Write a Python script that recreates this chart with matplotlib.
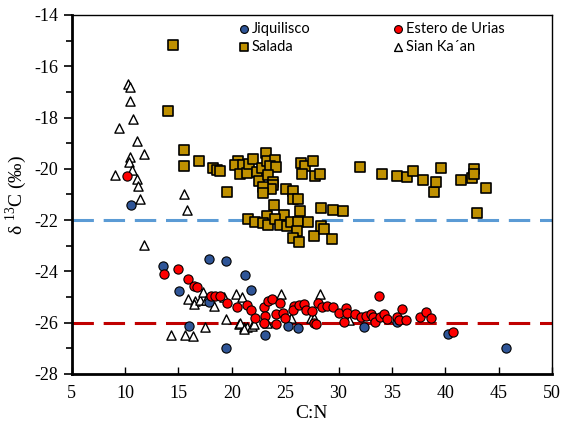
import matplotlib
matplotlib.use("Agg")
import matplotlib.pyplot as plt
from matplotlib.ticker import MultipleLocator

plt.rcParams['font.family'] = ['Liberation Serif', 'DejaVu Serif']
plt.rcParams['mathtext.fontset'] = 'custom'
plt.rcParams['mathtext.rm'] = 'Liberation Serif'
plt.rcParams['axes.unicode_minus'] = False

# --- Data (C:N, d13C) ---
jiq_x = [10.54, 17.9, 13.54, 19.42, 21.27, 15.01, 15.95, 19.42, 17.9, 21.8,
         23.12, 25.28, 26.16, 32.4, 35.51, 40.27, 45.72]
jiq_y = [-21.42, -23.5, -23.8, -23.6, -24.13, -24.77, -26.12, -26.98, -25.19, -24.72,
         -26.48, -26.13, -26.22, -26.15, -25.96, -26.45, -26.97]

est_x = [10.19, 13.64, 14.95, 15.89, 16.48, 16.76, 18.01, 18.42, 18.86, 19.55,
         20.49, 21.43, 21.81, 22.15, 22.99, 23.12, 22.99, 23.4, 23.78, 24.18,
         24.18, 24.56, 24.81, 24.96, 25.81, 25.75, 26.28, 26.75, 26.91, 27.54,
         28.06, 27.69, 27.91, 28.47, 28.94, 29.51, 30.03, 30.66, 30.82, 30.5,
         31.51, 32.07, 32.54, 33.0, 33.26, 33.39, 33.89, 33.79, 34.26, 34.58,
         35.45, 35.7, 35.99, 36.36, 37.64, 38.17, 38.64, 40.74]
est_y = [-20.29, -24.11, -23.89, -24.3, -24.57, -24.62, -24.96, -24.97, -24.97, -25.22,
         -25.4, -25.32, -25.5, -25.83, -25.4, -25.73, -26.02, -25.14, -25.06, -25.67,
         -26.05, -25.24, -25.63, -25.83, -25.35, -25.5, -25.31, -25.28, -25.5, -25.53,
         -25.24, -26.02, -26.05, -25.4, -25.35, -25.37, -25.63, -25.44, -25.63, -25.96,
         -25.67, -25.77, -25.72, -25.66, -25.77, -25.96, -25.77, -24.96, -25.67, -25.85,
         -25.79, -25.89, -25.48, -25.89, -25.79, -25.57, -25.8, -26.36]

sal_x = [14.48, 14.01, 15.48, 15.48, 16.92, 18.2, 18.58, 18.9, 19.52, 20.55,
         20.33, 21.02, 20.77, 21.43, 21.62, 21.99, 22.33, 22.52, 22.87, 23.22,
         23.27, 24.02, 23.62, 24.15, 23.43, 23.84, 23.9, 23.69, 22.94, 22.9,
         25.12, 25.75, 25.69, 26.18, 26.47, 26.81, 26.62, 27.63, 27.78, 28.25,
         31.98, 23.93, 26.41, 24.87, 23.3, 21.49, 22.18, 22.94, 23.37, 24.06,
         24.49, 25.19, 25.56, 26.18, 27.12, 26.09, 25.69, 26.31, 27.69, 28.38,
         28.66, 29.35, 28.35, 29.47, 30.41, 34.04, 35.48, 36.39, 36.98, 37.92,
         38.92, 39.14, 39.58, 41.46, 42.46, 42.65, 42.71, 43.84, 42.96]
sal_y = [-15.16, -17.75, -19.25, -19.89, -19.68, -19.95, -20.04, -20.1, -20.92, -19.7,
         -19.86, -19.85, -20.2, -20.16, -19.82, -19.63, -20.13, -20.47, -19.95, -19.38,
         -19.69, -19.65, -19.89, -19.94, -20.25, -20.51, -20.64, -20.77, -20.72, -20.95,
         -20.77, -20.88, -21.17, -21.18, -19.78, -19.89, -20.21, -19.7, -20.28, -20.22,
         -19.91, -21.42, -21.66, -21.81, -21.82, -21.97, -22.09, -22.1, -22.18, -21.97,
         -22.18, -22.23, -22.08, -22.08, -22.08, -22.43, -22.71, -22.86, -22.62, -22.23,
         -22.34, -22.74, -21.52, -21.61, -21.66, -20.22, -20.26, -20.32, -20.09, -20.43,
         -20.91, -20.53, -19.98, -20.42, -20.35, -19.99, -20.22, -20.74, -21.72]

sian_x = [10.26, 10.5, 10.45, 10.76, 9.47, 11.07, 11.79, 10.5, 10.38, 10.69,
          9.04, 11.16, 11.23, 11.41, 15.52, 15.77, 11.76, 15.89, 16.55, 16.48,
          16.98, 17.3, 17.6, 18.3, 19.3, 20.43, 20.96, 19.42, 14.32, 15.57,
          16.32, 17.52, 20.64, 21.18, 21.43, 24.65, 28.22, 20.8, 21.1, 21.9,
          22.05, 23.3, 25.5, 27.38, 27.69, 30.97]
sian_y = [-16.68, -16.79, -17.34, -18.04, -18.42, -18.93, -19.43, -19.52, -19.74, -20.05,
          -20.24, -20.4, -20.68, -21.18, -21.0, -21.62, -22.98, -25.07, -25.17, -25.27,
          -25.1, -24.79, -25.1, -25.35, -25.0, -24.89, -24.98, -25.84, -26.47, -26.47,
          -26.52, -26.17, -26.05, -26.15, -26.17, -24.9, -24.9, -26.0, -26.26, -26.13,
          -26.07, -26.02, -25.83, -25.83, -25.83, -25.89]

ref_lines = [-22, -26]
ref_colors = ['#5B9BD5', '#C00000']

fig = plt.figure(figsize=(5.63, 4.33), dpi=100)
ax = fig.add_axes([0.1274, 0.1363, 0.8531, 0.8291])

for yv, c in zip(ref_lines, ref_colors):
    ax.axhline(yv, color=c, lw=2.2, dashes=(7, 3.2), zorder=1)

ms = 44
h_sian = ax.scatter(sian_x, sian_y, s=ms, marker='^', facecolor='white', edgecolor='black',
                    linewidth=1.0, zorder=3, label='Sian Ka\u00b4an')
h_jiq = ax.scatter(jiq_x, jiq_y, s=ms, marker='o', facecolor='#2F5597', edgecolor='black',
                   linewidth=0.8, zorder=3, label='Jiquilisco')
h_est = ax.scatter(est_x, est_y, s=ms, marker='o', facecolor='#FF0000', edgecolor='black',
                   linewidth=0.8, zorder=4, label='Estero de Urias')
h_sal = ax.scatter(sal_x, sal_y, s=ms, marker='s', facecolor='#BF9000', edgecolor='black',
                   linewidth=1.2, zorder=3, label='Salada')

ax.set_xlim(5, 50)
ax.set_ylim(-28, -14)
ax.xaxis.set_major_locator(MultipleLocator(5))
ax.yaxis.set_major_locator(MultipleLocator(2))
ax.yaxis.set_minor_locator(MultipleLocator(1))
ax.tick_params(axis='x', which='major', direction='in', length=5, width=1, labelsize=13, pad=8)
ax.tick_params(axis='y', which='major', direction='out', length=6, width=1.2, labelsize=13)
ax.tick_params(axis='y', which='minor', direction='out', length=4, width=1.2)
for s in ['left', 'bottom']:
    ax.spines[s].set_linewidth(2)
for s in ['top', 'right']:
    ax.spines[s].set_linewidth(1)

ax.set_xlabel('C:N', fontsize=14, labelpad=2)
ax.set_ylabel(r'δ $^{\mathregular{13}}$C (‰)', fontsize=14, labelpad=4)

# column-major fill: col1 = Jiquilisco, Salada ; col2 = Estero de Urias, Sian Ka'an
handles = [h_jiq, h_sal, h_est, h_sian]
labels = [h.get_label() for h in handles]
leg = ax.legend(handles, labels, ncol=2, frameon=False,
                loc='upper left', bbox_to_anchor=(0.322, 1.008),
                prop={'family': ['Lato', 'DejaVu Sans'], 'size': 10.5},
                handletextpad=0.05, columnspacing=5.5, labelspacing=0.25,
                handlelength=1.0, borderaxespad=0.3, markerscale=0.85)

fig.savefig('out.png', dpi=100)
